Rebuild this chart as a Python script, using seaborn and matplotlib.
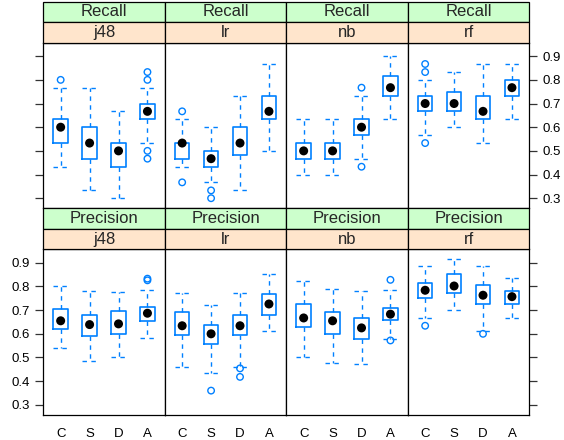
import numpy as np
import pandas as pd
import seaborn as sns
import matplotlib
matplotlib.use("Agg")
import matplotlib.pyplot as plt
from matplotlib.patches import Rectangle

# ---------------- data ----------------
metrics = ["Recall", "Precision"]
classifiers = ["j48", "lr", "nb", "rf"]
methods = ["C", "S", "D", "A"]

# one entry per box, ordered metric -> classifier -> method
whislo = [0.433, 0.333, 0.300, 0.533,   0.433, 0.367, 0.333, 0.500,
          0.400, 0.400, 0.467, 0.633,   0.567, 0.600, 0.533, 0.633,
          0.541, 0.485, 0.500, 0.583,   0.460, 0.436, 0.461, 0.610,
          0.500, 0.475, 0.471, 0.580,   0.667, 0.700, 0.610, 0.667]
q1 = [0.533, 0.467, 0.433, 0.633,   0.467, 0.433, 0.483, 0.633,
      0.467, 0.467, 0.567, 0.733,   0.667, 0.667, 0.633, 0.733,
      0.621, 0.590, 0.601, 0.655,   0.594, 0.555, 0.593, 0.680,
      0.627, 0.601, 0.580, 0.657,   0.750, 0.772, 0.726, 0.725]
med = [0.600, 0.533, 0.500, 0.667,   0.533, 0.467, 0.533, 0.667,
       0.500, 0.500, 0.600, 0.767,   0.700, 0.700, 0.667, 0.767,
       0.655, 0.639, 0.642, 0.687,   0.634, 0.600, 0.634, 0.726,
       0.667, 0.655, 0.625, 0.683,   0.784, 0.802, 0.763, 0.757]
q3 = [0.633, 0.600, 0.533, 0.700,   0.533, 0.500, 0.600, 0.733,
      0.533, 0.533, 0.633, 0.817,   0.733, 0.750, 0.733, 0.800,
      0.705, 0.678, 0.695, 0.715,   0.694, 0.636, 0.681, 0.768,
      0.725, 0.692, 0.667, 0.709,   0.814, 0.851, 0.807, 0.782]
whishi = [0.767, 0.767, 0.667, 0.767,   0.633, 0.600, 0.733, 0.867,
          0.633, 0.633, 0.733, 0.900,   0.800, 0.833, 0.867, 0.867,
          0.800, 0.782, 0.778, 0.786,   0.774, 0.723, 0.774, 0.852,
          0.823, 0.789, 0.782, 0.785,   0.885, 0.914, 0.885, 0.835]

# outliers: box -> list of outlier values
outliers = {
    ("Recall", "j48", "C"): [0.800],
    ("Recall", "j48", "A"): [0.467, 0.500, 0.800, 0.833],
    ("Recall", "lr", "C"): [0.367, 0.667],
    ("Recall", "lr", "S"): [0.300, 0.333],
    ("Recall", "nb", "D"): [0.433, 0.767],
    ("Recall", "rf", "C"): [0.533, 0.833, 0.867],
    ("Precision", "j48", "A"): [0.826, 0.833],
    ("Precision", "lr", "S"): [0.360],
    ("Precision", "lr", "D"): [0.418, 0.454],
    ("Precision", "nb", "A"): [0.572, 0.828],
    ("Precision", "rf", "C"): [0.634],
    ("Precision", "rf", "D"): [0.600],
}

# ---------------- tables ----------------
rows = []
combos = [(m, c, k) for m in metrics for c in classifiers for k in methods]
for i, (m, c, k) in enumerate(combos):
    rows.append(dict(metric=m, classifier=c, method=k, pos=methods.index(k),
                     whislo=whislo[i], q1=q1[i], med=med[i], q3=q3[i], whishi=whishi[i]))
stats = pd.DataFrame(rows)

orow = []
for (m, c, k), vals in outliers.items():
    for v in vals:
        orow.append(dict(metric=m, classifier=c, method=k, pos=methods.index(k), value=v))
outdf = pd.DataFrame(orow)

# ---------------- style ----------------
sns.set_style("white")
plt.rcParams["font.family"] = ["Liberation Sans", "DejaVu Sans"]

BLUE = "#0080ff"
dash = (0, (3.2, 3.2))


def draw_box(data, **kws):
    ax = plt.gca()
    data = data.sort_values("pos")
    bstats = [dict(whislo=r.whislo, q1=r.q1, med=r.med, q3=r.q3, whishi=r.whishi, fliers=[])
              for r in data.itertuples()]
    ax.bxp(bstats, positions=data["pos"].tolist(), widths=0.5, capwidths=0.5,
           showfliers=False, patch_artist=False,
           boxprops=dict(color=BLUE, linewidth=1.2),
           whiskerprops=dict(color=BLUE, linewidth=1.0, linestyle=dash),
           capprops=dict(color=BLUE, linewidth=1.0, linestyle=dash),
           medianprops=dict(linewidth=0), manage_ticks=False)
    m, c = data["metric"].iloc[0], data["classifier"].iloc[0]
    od = outdf[(outdf.metric == m) & (outdf.classifier == c)]
    if len(od):
        sns.scatterplot(data=od, x="pos", y="value", ax=ax, marker="o", s=22,
                        facecolor="none", edgecolor=BLUE, linewidth=1.0, zorder=4)
    sns.scatterplot(data=data, x="pos", y="med", ax=ax, color="black", s=42,
                    edgecolor="none", zorder=5)
    ax.set_xlabel("")
    ax.set_ylabel("")


g = sns.FacetGrid(stats, row="metric", col="classifier", row_order=metrics,
                  col_order=classifiers, sharex=True, sharey=True, despine=False,
                  height=1.66, aspect=1.2)
g.map_dataframe(draw_box)
g.set_titles("")
g.figure.set_size_inches(5.64, 4.4)
W, H = 564.0, 440.0
g.figure.subplots_adjust(left=43.3 / W, right=529.3 / W, top=1 - 42.7 / H,
                         bottom=1 - 415.0 / H, wspace=0, hspace=41.0 / 166.0)

strip_h = 20.6 / 166.0
for r, m in enumerate(metrics):
    for cc, c in enumerate(classifiers):
        ax = g.axes[r, cc]
        ax.set_xlim(-0.6, 3.6)
        ax.set_ylim(0.257, 0.957)
        ax.set_yticks([0.3, 0.4, 0.5, 0.6, 0.7, 0.8, 0.9])
        ax.set_yticklabels(["0.3", "0.4", "0.5", "0.6", "0.7", "0.8", "0.9"])
        ax.set_xticks(range(len(methods)))
        ax.set_xticklabels(methods)
        ax.set_xlabel("")
        ax.set_ylabel("")
        for s in ax.spines.values():
            s.set_color("black")
            s.set_linewidth(0.9)
        ax.tick_params(axis="x", bottom=False, top=False, labelbottom=(r == 1),
                       labelsize=9.5, pad=6, colors="black")
        left = cc == 0
        right = cc == len(classifiers) - 1
        ax.tick_params(axis="y", direction="out", length=6, width=0.9, color="#333333",
                       left=left, right=right,
                       labelleft=(left and r == 1), labelright=(right and r == 0),
                       labelsize=9.5, pad=3.5, labelcolor="black")
        # strips: outer (metric) green on top, inner (classifier) orange below
        ax.add_patch(Rectangle((0, 1 + strip_h), 1, strip_h, transform=ax.transAxes,
                               clip_on=False, facecolor="#ccffcc", edgecolor="black",
                               linewidth=0.9, zorder=10))
        ax.add_patch(Rectangle((0, 1), 1, strip_h, transform=ax.transAxes,
                               clip_on=False, facecolor="#ffe5cc", edgecolor="black",
                               linewidth=0.9, zorder=10))
        ax.text(0.5, 1 + 1.5 * strip_h, m, transform=ax.transAxes, ha="center",
                va="center", fontsize=12, zorder=11)
        ax.text(0.5, 1 + 0.5 * strip_h, c, transform=ax.transAxes, ha="center",
                va="center", fontsize=12, zorder=11)

g.figure.savefig("out.png", dpi=100)
